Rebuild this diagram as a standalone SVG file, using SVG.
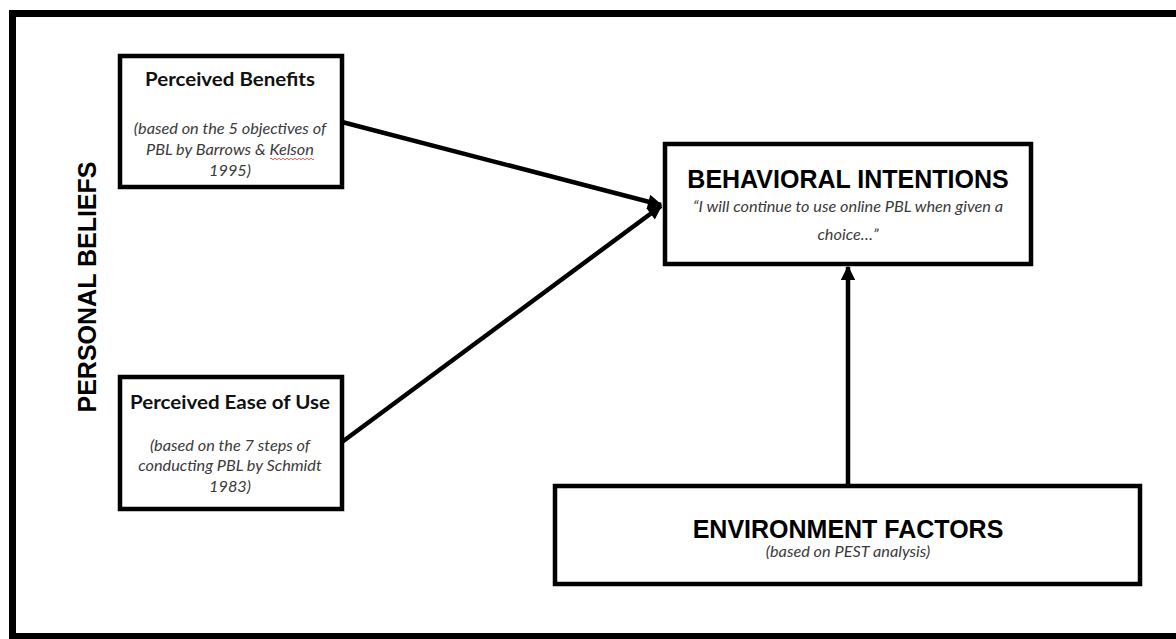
<svg xmlns="http://www.w3.org/2000/svg" width="1176" height="639" viewBox="0 0 1176 639">
<style>
.box{fill:#fff;stroke:#000;stroke-width:4.5}
.t{font-family:Lato,"Open Sans","Liberation Sans",sans-serif;font-weight:bold;font-size:19.5px;fill:#111;text-anchor:middle}
.i{font-family:Lato,"Open Sans","Liberation Sans",sans-serif;font-style:italic;font-size:16.3px;fill:#3a3a3a;text-anchor:middle}
.big{font-family:"Liberation Sans",Arial,sans-serif;font-weight:bold;font-size:25px;fill:#000;text-anchor:middle}
.conn{stroke:#000;stroke-width:4.5;fill:none}
</style>
<defs>
<marker id="ah" viewBox="0 0 10 10" refX="9" refY="5" markerWidth="3.4" markerHeight="3.2" orient="auto" markerUnits="strokeWidth">
<path d="M0,0 L10,5 L0,10 z" fill="#000"/>
</marker>
</defs>
<rect width="1176" height="639" fill="#fff"/>
<g id="frame">
<rect x="12.5" y="13.5" width="1180" height="623" fill="none" stroke="#000" stroke-width="7"/>
</g>
<g id="label-personal-beliefs">
<text class="big" font-size="24" transform="translate(96,287) rotate(-90)">PERSONAL BELIEFS</text>
</g>
<g id="connectors">
<line class="conn" x1="342" y1="122" x2="661" y2="205" marker-end="url(#ah)"/>
<line class="conn" x1="342" y1="442" x2="661" y2="206" marker-end="url(#ah)"/>
<line class="conn" x1="848" y1="485" x2="848" y2="267" marker-end="url(#ah)"/>
</g>
<g id="perceived-benefits">
<rect class="box" x="120" y="56" width="222" height="131"/>
<text class="t" x="230" y="86" textLength="170" lengthAdjust="spacingAndGlyphs">Perceived Benefits</text>
<text class="i" x="230" y="134">(based on the 5 objectives of</text>
<text class="i" x="230" y="155">PBL by Barrows &amp; Kelson</text>
<text class="i" x="230" y="176">1995)</text>
<path d="M270,159 q1,-1.5 2,0 t2,0 t2,0 t2,0 t2,0 t2,0 t2,0 t2,0 t2,0 t2,0 t2,0 t2,0 t2,0 t2,0 t2,0 t2,0 t2,0 t2,0 t2,0 t2,0 t2,0 t2,0" fill="none" stroke="#e03030" stroke-width="0.8"/>
</g>
<g id="perceived-ease-of-use">
<rect class="box" x="120" y="377" width="222" height="132"/>
<text class="t" x="230" y="409" textLength="200" lengthAdjust="spacingAndGlyphs">Perceived Ease of Use</text>
<text class="i" x="230" y="451">(based on the 7 steps of</text>
<text class="i" x="230" y="471">conducting PBL by Schmidt</text>
<text class="i" x="230" y="492">1983)</text>
</g>
<g id="behavioral-intentions">
<rect class="box" x="665" y="144" width="366" height="120"/>
<text class="big" x="848" y="188">BEHAVIORAL INTENTIONS</text>
<text class="i" x="848" y="212">“I will continue to use online PBL when given a</text>
<text class="i" x="848" y="240">choice…”</text>
</g>
<g id="environment-factors">
<rect class="box" x="555" y="486" width="585" height="98"/>
<text class="big" x="848" y="538">ENVIRONMENT FACTORS</text>
<text class="i" x="848" y="557" font-size="14.5">(based on PEST analysis)</text>
</g>
</svg>
